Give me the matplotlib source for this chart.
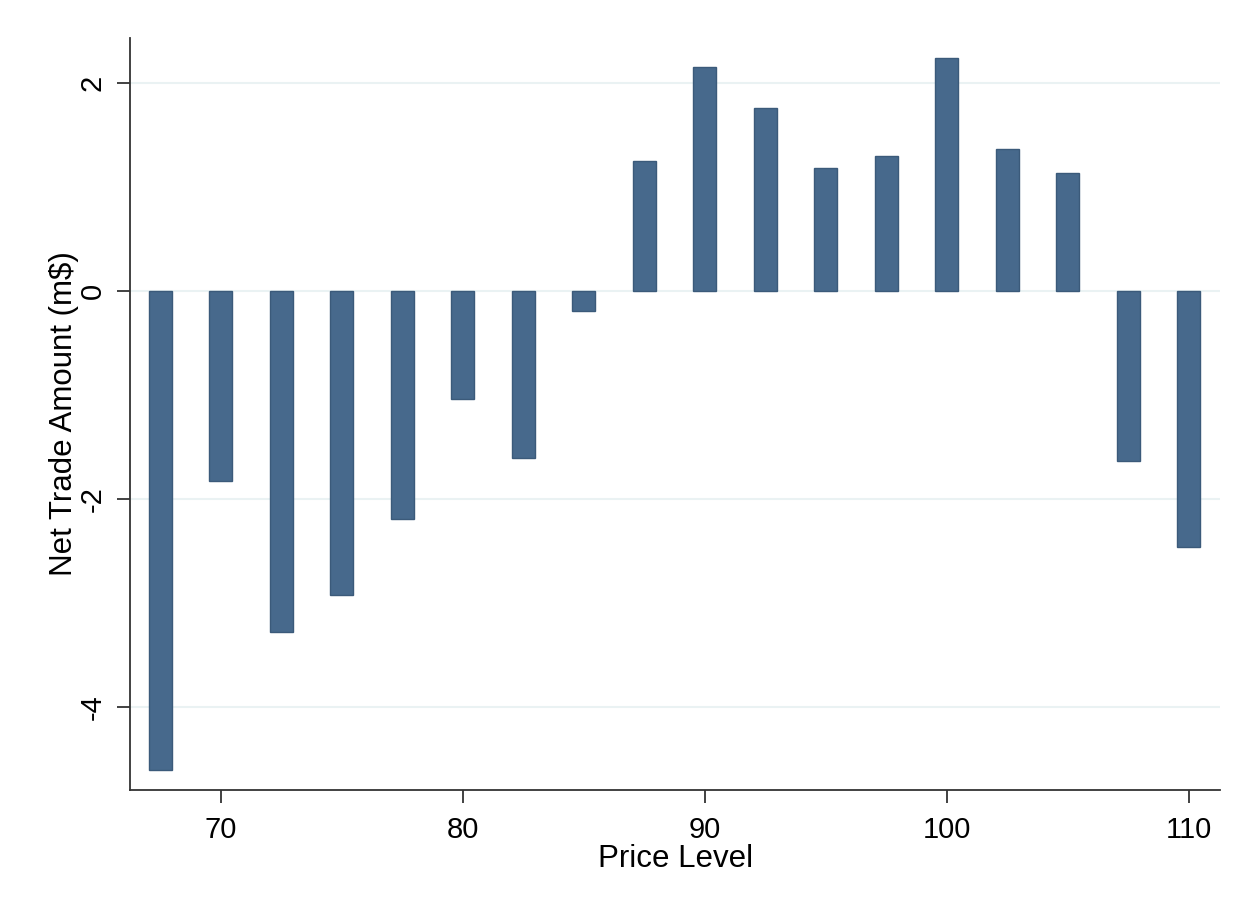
import matplotlib
matplotlib.use("Agg")
import matplotlib.pyplot as plt

plt.rcParams['font.family'] = ['Liberation Sans', 'DejaVu Sans']

# price levels and net trade amounts (m$)
price_levels = [67.5, 70, 72.5, 75, 77.5, 80, 82.5, 85, 87.5,
                90, 92.5, 95, 97.5, 100, 102.5, 105, 107.5, 110]
net_trade = [-4.61, -1.83, -3.28, -2.93, -2.19, -1.04, -1.61, -0.19, 1.25,
             2.15, 1.76, 1.18, 1.30, 2.24, 1.36, 1.13, -1.64, -2.46]
x_ticks = [70, 80, 90, 100, 110]
y_ticks = [-4, -2, 0, 2]

fig = plt.figure(figsize=(12.49, 9.09), dpi=100)
ax = fig.add_axes([0.104, 0.131, 0.873, 0.827])

ax.bar(price_levels, net_trade, width=0.95, color='#47698C',
       edgecolor='#3B5A7A', linewidth=1, zorder=3)

ax.set_xlim(66.25, 111.3)
ax.set_ylim(-4.8, 2.43)
ax.set_xticks(x_ticks)
ax.set_yticks(y_ticks)
ax.set_yticklabels([str(v) for v in y_ticks], rotation=90, va='center')

ax.grid(axis='y', color='#EAF2F3', linewidth=1.5, zorder=0)
ax.set_axisbelow(True)

for side in ('top', 'right'):
    ax.spines[side].set_visible(False)
for side in ('left', 'bottom'):
    ax.spines[side].set_color('#333333')
    ax.spines[side].set_linewidth(1.3)

ax.tick_params(axis='both', direction='out', length=9.5, width=1.3,
               color='#333333', labelsize=21)
ax.tick_params(axis='x', pad=9)
ax.tick_params(axis='y', pad=7)

ax.set_xlabel('Price Level', fontsize=22.5, labelpad=0)
ax.set_ylabel('Net Trade Amount (m$)', fontsize=22.5, labelpad=0)

fig.savefig('out.png', dpi=100, facecolor='white')
